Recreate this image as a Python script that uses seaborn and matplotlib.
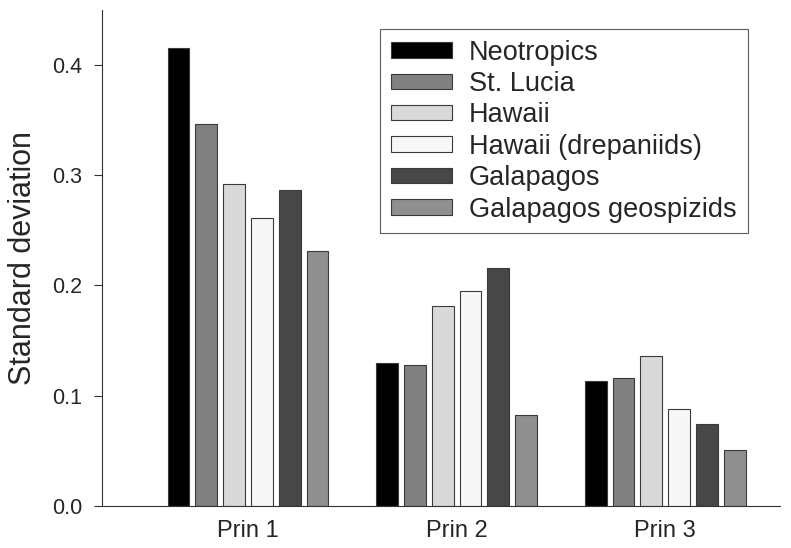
import pandas as pd
import matplotlib
matplotlib.use("Agg")
import matplotlib.pyplot as plt
import seaborn as sns

# values
components = ["Prin 1", "Prin 2", "Prin 3"]
regions = ["Neotropics", "St. Lucia", "Hawaii", "Hawaii (drepaniids)",
           "Galapagos", "Galapagos geospizids"]
prin1 = [0.415, 0.346, 0.292, 0.261, 0.287, 0.231]
prin2 = [0.130, 0.128, 0.181, 0.195, 0.216, 0.082]
prin3 = [0.113, 0.116, 0.136, 0.088, 0.074, 0.051]
colors = ["#000000", "#808080", "#d9d9d9", "#f7f7f7", "#474747", "#8f8f8f"]

rows = []
for comp, vals in zip(components, [prin1, prin2, prin3]):
    for reg, v in zip(regions, vals):
        rows.append({"component": comp, "region": reg, "sd": v})
df = pd.DataFrame(rows)

sns.set_style("ticks")
plt.rcParams["font.family"] = ["Liberation Sans", "DejaVu Sans"]

fig = plt.figure(figsize=(7.91, 5.48), dpi=100)
ax = fig.add_axes([0.129, 0.077, 0.857, 0.905])

sns.barplot(data=df, x="component", y="sd", hue="region",
            hue_order=regions, palette=colors, width=0.8, gap=0.22,
            edgecolor="#3a3a3a", linewidth=0.8, saturation=1, ax=ax)

ax.set_xlim(-0.7, 2.55)
ax.set_ylim(0, 0.45)
ax.set_yticks([0.0, 0.1, 0.2, 0.3, 0.4])
ax.set_yticklabels(["0.0", "0.1", "0.2", "0.3", "0.4"])
ax.set_xlabel("")
ax.set_ylabel("Standard deviation", fontsize=22, labelpad=10)
ax.tick_params(axis="y", labelsize=15.5, length=6, width=0.8, color="#333333", pad=8)
ax.tick_params(axis="x", labelsize=17, length=0, pad=10)
for s in ["top", "right"]:
    ax.spines[s].set_visible(False)
for s in ["left", "bottom"]:
    ax.spines[s].set_linewidth(0.8)
    ax.spines[s].set_color("#333333")

leg = ax.legend(loc="upper left", bbox_to_anchor=(0.41, 0.962), fontsize=19.5,
                frameon=True, fancybox=False, handlelength=2.26,
                handleheight=0.5, labelspacing=0.2, handletextpad=0.63,
                borderpad=0.4, borderaxespad=0, title=None)
leg.get_frame().set_edgecolor("#333333")
leg.get_frame().set_linewidth(0.8)

fig.savefig("out.png", dpi=100)
